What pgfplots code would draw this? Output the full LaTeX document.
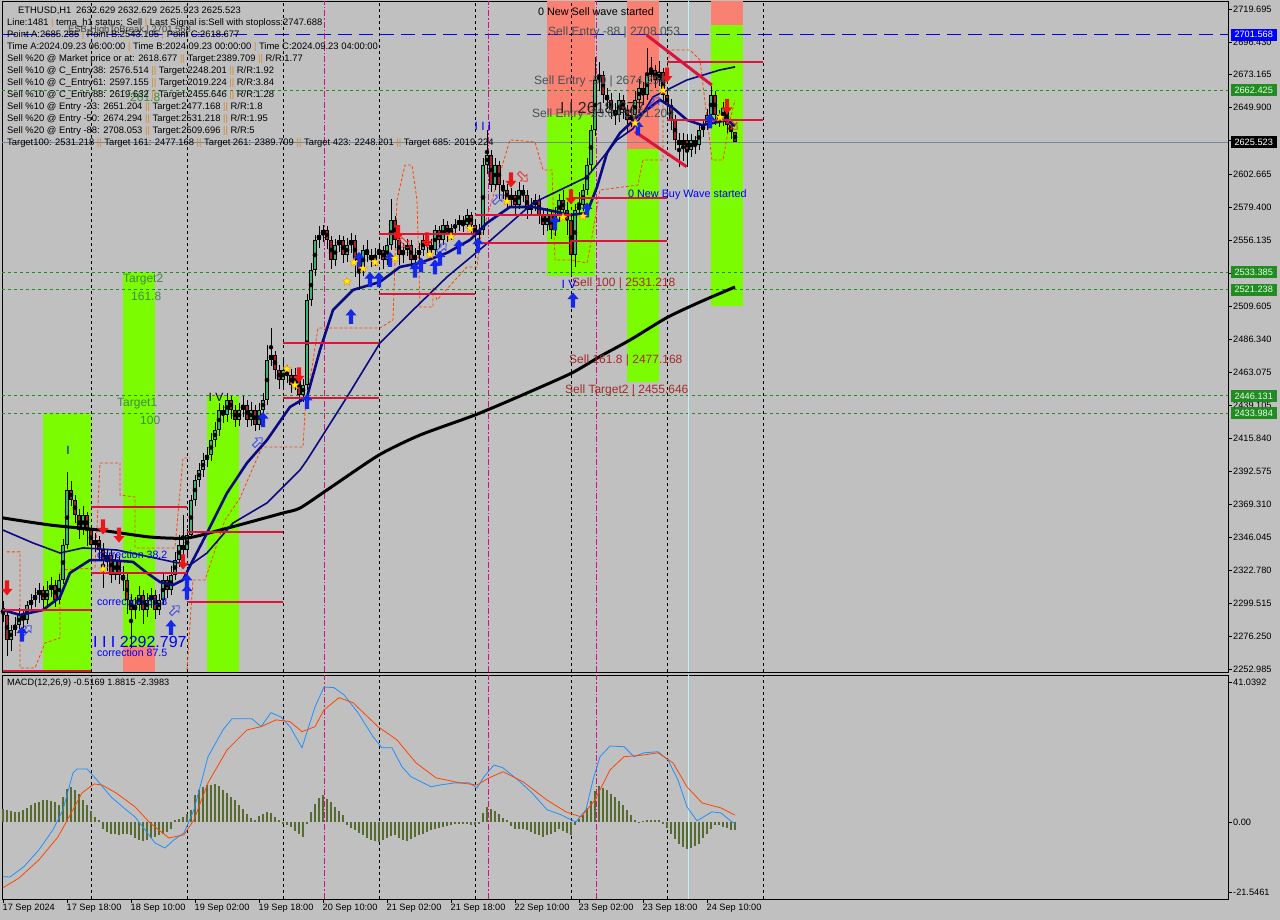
\documentclass[border=0pt]{standalone}
\usepackage{pgfplots}
\pgfplotsset{compat=1.18}
\usepackage{pgfplotstable}
\usepackage{fontspec}
\setmainfont{Liberation Sans}
\definecolor{bg}{RGB}{192,192,192}
\definecolor{bandgreen}{RGB}{124,252,0}
\definecolor{bandsalmon}{RGB}{250,128,114}
\definecolor{lvlgreen}{RGB}{34,139,34}
\definecolor{crim}{RGB}{220,20,60}
\definecolor{navyma}{RGB}{10,10,130}
\definecolor{bull}{RGB}{60,179,113}
\definecolor{bear}{RGB}{165,35,35}
\definecolor{magv}{RGB}{199,21,133}
\definecolor{lcyan}{RGB}{190,240,245}
\definecolor{orng}{RGB}{255,69,0}
\definecolor{dodger}{RGB}{30,144,255}
\definecolor{olivebar}{RGB}{85,107,47}
\definecolor{sepor}{RGB}{215,135,40}
\definecolor{lblgray}{RGB}{70,82,82}
\definecolor{brn}{RGB}{165,42,42}
\definecolor{tgtgreen}{RGB}{60,140,70}
\definecolor{slate}{RGB}{119,136,153}
\definecolor{arrred}{RGB}{240,20,20}
\definecolor{arrblue}{RGB}{20,40,235}
\definecolor{hollblue}{RGB}{70,70,235}
\definecolor{hollred}{RGB}{235,50,50}
\newcommand\fs[1]{\fontsize{#1}{#1}\selectfont}
\newcommand\SepD{\textcolor{sepor}{||}}
\newcommand\SepS{\textcolor{sepor}{|}}

\pgfdeclareplotmark{dnarrow}{%
 \pgfpathmoveto{\pgfqpoint{0pt}{-7.5pt}}%
 \pgfpathlineto{\pgfqpoint{5.5pt}{-1pt}}%
 \pgfpathlineto{\pgfqpoint{2.2pt}{-1pt}}%
 \pgfpathlineto{\pgfqpoint{2.2pt}{7.5pt}}%
 \pgfpathlineto{\pgfqpoint{-2.2pt}{7.5pt}}%
 \pgfpathlineto{\pgfqpoint{-2.2pt}{-1pt}}%
 \pgfpathlineto{\pgfqpoint{-5.5pt}{-1pt}}%
 \pgfpathclose\pgfusepathqfill}
\pgfdeclareplotmark{uparrow}{%
 \pgfpathmoveto{\pgfqpoint{0pt}{7.5pt}}%
 \pgfpathlineto{\pgfqpoint{5.5pt}{1pt}}%
 \pgfpathlineto{\pgfqpoint{2.2pt}{1pt}}%
 \pgfpathlineto{\pgfqpoint{2.2pt}{-7.5pt}}%
 \pgfpathlineto{\pgfqpoint{-2.2pt}{-7.5pt}}%
 \pgfpathlineto{\pgfqpoint{-2.2pt}{1pt}}%
 \pgfpathlineto{\pgfqpoint{-5.5pt}{1pt}}%
 \pgfpathclose\pgfusepathqfill}
\pgfdeclareplotmark{hollur}{%
 \pgftransformrotate{-45}%
 \pgfpathmoveto{\pgfqpoint{0pt}{6pt}}%
 \pgfpathlineto{\pgfqpoint{4.5pt}{1pt}}%
 \pgfpathlineto{\pgfqpoint{1.8pt}{1pt}}%
 \pgfpathlineto{\pgfqpoint{1.8pt}{-6pt}}%
 \pgfpathlineto{\pgfqpoint{-1.8pt}{-6pt}}%
 \pgfpathlineto{\pgfqpoint{-1.8pt}{1pt}}%
 \pgfpathlineto{\pgfqpoint{-4.5pt}{1pt}}%
 \pgfpathclose\pgfusepathqstroke}
\pgfdeclareplotmark{hollrd}{%
 \pgftransformrotate{45}%
 \pgfpathmoveto{\pgfqpoint{0pt}{-6pt}}%
 \pgfpathlineto{\pgfqpoint{4.5pt}{-1pt}}%
 \pgfpathlineto{\pgfqpoint{1.8pt}{-1pt}}%
 \pgfpathlineto{\pgfqpoint{1.8pt}{6pt}}%
 \pgfpathlineto{\pgfqpoint{-1.8pt}{6pt}}%
 \pgfpathlineto{\pgfqpoint{-1.8pt}{-1pt}}%
 \pgfpathlineto{\pgfqpoint{-4.5pt}{-1pt}}%
 \pgfpathclose\pgfusepathqstroke}
\pgfdeclareplotmark{ystar}{%
 \pgfpathmoveto{\pgfqpoint{0pt}{4.5pt}}%
 \pgfpathlineto{\pgfqpoint{-1.06pt}{1.46pt}}%
 \pgfpathlineto{\pgfqpoint{-4.28pt}{1.39pt}}%
 \pgfpathlineto{\pgfqpoint{-1.71pt}{-0.56pt}}%
 \pgfpathlineto{\pgfqpoint{-2.65pt}{-3.64pt}}%
 \pgfpathlineto{\pgfqpoint{0pt}{-1.8pt}}%
 \pgfpathlineto{\pgfqpoint{2.65pt}{-3.64pt}}%
 \pgfpathlineto{\pgfqpoint{1.71pt}{-0.56pt}}%
 \pgfpathlineto{\pgfqpoint{4.28pt}{1.39pt}}%
 \pgfpathlineto{\pgfqpoint{1.06pt}{1.46pt}}%
 \pgfpathclose\pgfusepathqfillstroke}

\pgfplotstableread{
i o h l c
0 2296.0 2301.0 2286.0 2291.2
1 2291.2 2293.0 2262.0 2273.5
2 2273.5 2284.0 2266.0 2280.6
3 2280.6 2290.0 2276.0 2284.1
4 2284.1 2296.0 2281.0 2291.2
5 2291.2 2295.0 2282.0 2287.6
6 2287.6 2301.0 2285.0 2298.2
7 2298.2 2306.0 2294.0 2301.8
8 2301.8 2310.0 2297.0 2305.3
9 2305.3 2314.0 2300.0 2308.8
10 2308.8 2312.0 2296.0 2301.8
11 2301.8 2315.0 2298.0 2308.8
12 2308.8 2318.0 2304.0 2312.4
13 2312.4 2316.0 2297.0 2301.8
14 2301.8 2320.0 2299.0 2315.9
15 2315.9 2345.0 2313.0 2340.6
16 2340.6 2392.0 2338.0 2379.5
17 2379.5 2386.0 2368.0 2372.5
18 2372.5 2376.0 2356.0 2361.8
19 2361.8 2366.0 2345.0 2351.2
20 2351.2 2368.0 2348.0 2361.8
21 2361.8 2364.0 2340.0 2351.2
22 2351.2 2354.0 2330.0 2340.6
23 2340.6 2349.0 2336.0 2344.2
24 2344.2 2347.0 2330.0 2337.1
25 2337.1 2342.0 2310.0 2330.0
26 2330.0 2338.0 2322.0 2333.6
27 2333.6 2337.0 2314.0 2319.4
28 2319.4 2334.0 2316.0 2330.0
29 2330.0 2333.0 2313.0 2319.4
30 2319.4 2326.0 2308.0 2315.9
31 2315.9 2320.0 2292.0 2301.8
32 2301.8 2306.0 2268.0 2294.7
33 2294.7 2304.0 2288.0 2298.2
34 2298.2 2312.0 2294.0 2305.3
35 2305.3 2309.0 2285.0 2294.7
36 2294.7 2307.0 2290.0 2301.8
37 2301.8 2310.0 2296.0 2305.3
38 2305.3 2309.0 2288.0 2294.7
39 2294.7 2306.0 2291.0 2301.8
40 2301.8 2320.0 2298.0 2315.9
41 2315.9 2319.0 2303.0 2308.8
42 2308.8 2326.0 2305.0 2319.4
43 2319.4 2336.0 2316.0 2330.0
44 2330.0 2348.0 2325.0 2340.6
45 2340.6 2362.0 2330.0 2337.1
46 2337.1 2352.0 2333.0 2347.7
47 2347.7 2376.0 2345.0 2372.5
48 2372.5 2390.0 2368.0 2386.6
49 2386.6 2399.0 2382.0 2393.7
50 2393.7 2406.0 2389.0 2400.7
51 2400.7 2410.0 2396.0 2404.3
52 2404.3 2420.0 2400.0 2414.9
53 2414.9 2428.0 2410.0 2422.0
54 2422.0 2441.0 2418.0 2436.1
55 2436.1 2440.0 2427.0 2432.6
56 2432.6 2448.0 2428.0 2443.2
57 2443.2 2446.0 2430.0 2436.1
58 2436.1 2440.0 2424.0 2429.0
59 2429.0 2441.0 2425.0 2436.1
60 2436.1 2446.0 2431.0 2439.7
61 2439.7 2443.0 2424.0 2429.0
62 2429.0 2442.0 2425.0 2436.1
63 2436.1 2440.0 2421.0 2425.5
64 2425.5 2441.0 2422.0 2436.1
65 2436.1 2448.0 2432.0 2443.2
66 2443.2 2482.0 2440.0 2471.5
67 2471.5 2494.0 2467.0 2475.0
68 2475.0 2478.0 2458.0 2464.4
69 2464.4 2468.0 2451.0 2457.3
70 2457.3 2472.0 2452.0 2464.4
71 2464.4 2468.0 2455.0 2460.9
72 2460.9 2465.0 2448.0 2453.8
73 2453.8 2466.0 2450.0 2460.9
74 2460.9 2463.0 2440.0 2446.7
75 2446.7 2458.0 2442.0 2453.8
76 2453.8 2518.0 2450.0 2513.9
77 2513.9 2540.0 2510.0 2535.1
78 2535.1 2560.0 2531.0 2556.4
79 2556.4 2566.0 2551.0 2559.9
80 2559.9 2567.0 2555.0 2563.4
81 2563.4 2566.0 2550.0 2556.4
82 2556.4 2559.0 2536.0 2542.2
83 2542.2 2557.0 2538.0 2552.8
84 2552.8 2560.0 2548.0 2556.4
85 2556.4 2559.0 2540.0 2545.7
86 2545.7 2558.0 2541.0 2552.8
87 2552.8 2561.0 2547.0 2556.4
88 2556.4 2560.0 2530.0 2542.2
89 2542.2 2547.0 2521.0 2535.1
90 2535.1 2553.0 2531.0 2549.3
91 2549.3 2556.0 2541.0 2545.7
92 2545.7 2550.0 2537.0 2542.2
93 2542.2 2551.0 2538.0 2545.7
94 2545.7 2554.0 2543.0 2549.3
95 2549.3 2552.0 2536.0 2542.2
96 2542.2 2558.0 2539.0 2552.8
97 2552.8 2585.0 2549.0 2570.5
98 2570.5 2573.0 2551.0 2556.4
99 2556.4 2560.0 2539.0 2545.7
100 2545.7 2554.0 2540.0 2549.3
101 2549.3 2557.0 2545.0 2552.8
102 2552.8 2556.0 2536.0 2542.2
103 2542.2 2551.0 2538.0 2545.7
104 2545.7 2554.0 2541.0 2549.3
105 2549.3 2561.0 2545.0 2556.4
106 2556.4 2560.0 2547.0 2552.8
107 2552.8 2557.0 2544.0 2549.3
108 2549.3 2567.0 2546.0 2563.4
109 2563.4 2566.0 2551.0 2556.4
110 2556.4 2571.0 2553.0 2567.0
111 2567.0 2570.0 2555.0 2559.9
112 2559.9 2568.0 2556.0 2564.8
113 2564.8 2571.0 2561.0 2567.0
114 2567.0 2574.0 2563.0 2570.5
115 2570.5 2573.0 2562.0 2567.0
116 2567.0 2578.0 2564.0 2574.0
117 2574.0 2576.0 2561.0 2567.0
118 2567.0 2570.0 2554.0 2559.9
119 2559.9 2568.0 2556.0 2563.4
120 2563.4 2614.0 2560.0 2609.4
121 2609.4 2634.0 2603.0 2616.5
122 2616.5 2620.0 2590.0 2595.2
123 2595.2 2614.0 2592.0 2609.4
124 2609.4 2612.0 2585.0 2595.2
125 2595.2 2599.0 2585.0 2591.7
126 2591.7 2596.0 2579.0 2584.6
127 2584.6 2593.0 2580.0 2588.2
128 2588.2 2591.0 2575.0 2581.1
129 2581.1 2597.0 2578.0 2591.7
130 2591.7 2595.0 2583.0 2588.2
131 2588.2 2592.0 2571.0 2577.6
132 2577.6 2586.0 2573.0 2581.1
133 2581.1 2589.0 2577.0 2584.6
134 2584.6 2588.0 2568.0 2574.0
135 2574.0 2578.0 2560.0 2567.0
136 2567.0 2579.0 2563.0 2574.0
137 2574.0 2577.0 2557.0 2563.4
138 2563.4 2580.0 2559.0 2574.0
139 2574.0 2589.0 2570.0 2584.6
140 2584.6 2592.0 2572.0 2577.6
141 2577.6 2583.0 2560.0 2570.5
142 2570.5 2574.0 2530.0 2545.7
143 2545.7 2582.0 2537.0 2577.6
144 2577.6 2590.0 2573.0 2581.1
145 2581.1 2596.0 2577.0 2591.7
146 2591.7 2614.0 2588.0 2609.4
147 2609.4 2638.0 2605.0 2634.1
148 2634.1 2686.0 2630.0 2669.5
149 2669.5 2682.0 2662.0 2673.0
150 2673.0 2676.0 2653.0 2658.9
151 2658.9 2664.0 2649.0 2655.4
152 2655.4 2660.0 2642.0 2648.3
153 2648.3 2653.0 2638.0 2644.7
154 2644.7 2660.0 2640.0 2655.4
155 2655.4 2659.0 2642.0 2648.3
156 2648.3 2652.0 2633.0 2641.2
157 2641.2 2650.0 2636.0 2644.7
158 2644.7 2662.0 2640.0 2655.4
159 2655.4 2670.0 2650.0 2663.8
160 2663.8 2668.0 2652.0 2658.9
161 2658.9 2692.0 2655.0 2673.0
162 2673.0 2686.0 2668.0 2676.6
163 2676.6 2680.0 2664.0 2669.5
164 2669.5 2683.0 2665.0 2675.1
165 2675.1 2678.0 2653.0 2658.9
166 2658.9 2663.0 2645.0 2651.8
167 2651.8 2656.0 2634.0 2641.2
168 2641.2 2645.0 2620.0 2627.1
169 2627.1 2632.0 2608.0 2623.5
170 2623.5 2632.0 2612.0 2627.1
171 2627.1 2631.0 2608.0 2620.0
172 2620.0 2631.0 2615.0 2627.1
173 2627.1 2630.0 2617.0 2623.5
174 2623.5 2638.0 2620.0 2634.1
175 2634.1 2642.0 2629.0 2637.6
176 2637.6 2649.0 2634.0 2644.7
177 2644.7 2665.0 2641.0 2658.9
178 2658.9 2662.0 2638.0 2644.7
179 2644.7 2648.0 2636.0 2641.2
180 2641.2 2654.0 2637.0 2649.7
181 2649.7 2652.0 2632.0 2637.6
182 2637.6 2641.0 2628.0 2632.7
183 2632.629 2632.629 2625.523 2625.523
}\candles

\pgfplotstableread{
i v
0 3.5
1 3.3
2 3.0
3 2.8
4 2.8
5 3.2
6 3.8
7 4.6
8 5.2
9 5.6
10 6.0
11 6.0
12 5.8
13 5.6
14 4.6
15 7.0
16 9.3
17 9.8
18 9.0
19 7.9
20 6.0
21 4.6
22 3.0
23 1.4
24 0.5
25 -2.0
26 -2.8
27 -3.3
28 -3.5
29 -3.7
30 -3.5
31 -3.3
32 -3.8
33 -4.6
34 -5.1
35 -5.4
36 -5.2
37 -4.6
38 -4.2
39 -3.8
40 -3.3
41 -2.8
42 -2.1
43 0.5
44 0.9
45 1.4
46 2.3
47 3.3
48 7.5
49 8.8
50 9.8
51 10.2
52 10.4
53 10.5
54 10.0
55 9.0
56 8.0
57 7.0
58 6.0
59 4.8
60 3.5
61 2.2
62 1.0
63 0.5
64 1.6
65 2.3
66 2.8
67 2.5
68 1.5
69 0.5
70 -0.6
71 -1.0
72 -1.4
73 -2.5
74 -3.5
75 -4.2
76 -0.5
77 2.8
78 5.0
79 6.8
80 7.5
81 6.5
82 5.6
83 4.2
84 3.0
85 1.8
86 -0.8
87 -1.6
88 -2.3
89 -3.0
90 -3.8
91 -4.4
92 -5.0
93 -5.4
94 -5.6
95 -5.0
96 -4.4
97 -4.0
98 -3.8
99 -4.4
100 -5.0
101 -5.3
102 -4.8
103 -4.2
104 -3.8
105 -3.3
106 -2.8
107 -2.4
108 -2.0
109 -1.6
110 -1.3
111 -1.1
112 -0.9
113 -0.7
114 -0.6
115 -0.5
116 -0.5
117 -0.8
118 -0.9
119 -0.7
120 2.5
121 4.2
122 3.7
123 3.0
124 2.3
125 1.2
126 0.5
127 -1.2
128 -1.9
129 -2.0
130 -2.1
131 -2.4
132 -2.8
133 -3.3
134 -3.8
135 -4.2
136 -3.8
137 -3.3
138 -2.7
139 -2.1
140 -2.5
141 -3.0
142 -3.7
143 -0.9
144 0.9
145 2.0
146 4.0
147 5.8
148 8.5
149 10.0
150 9.5
151 8.8
152 7.8
153 7.0
154 5.8
155 4.7
156 3.2
157 1.9
158 0.6
159 -0.3
160 0.3
161 0.5
162 0.5
163 0.6
164 0.4
165 -0.5
166 -1.8
167 -3.3
168 -4.8
169 -6.1
170 -6.9
171 -7.5
172 -7.3
173 -6.8
174 -6.1
175 -4.5
176 -3.3
177 -2.0
178 -0.9
179 -1.0
180 -1.4
181 -1.8
182 -2.2
183 -2.4
}\hist

\begin{document}
\begin{tikzpicture}
\fill[bg] (0,0) rectangle (1280pt,920pt);
\path[use as bounding box] (0,0) rectangle (1280pt,920pt);

\begin{axis}[
  at={(2pt,248pt)}, anchor=south west,
  scale only axis, width=1226pt, height=671pt,
  xmin=-0.25, xmax=306.25, ymin=2250.864, ymax=2725.35,
  axis line style={black, line width=0.8pt},
  xtick=\empty,
  ytick pos=right, yticklabel pos=right,
  ytick={2719.695,2696.430,2673.165,2649.900,2626.635,2602.665,2579.400,2556.135,2532.870,2509.605,2486.340,2463.075,2439.105,2415.840,2392.575,2369.310,2346.045,2322.780,2299.515,2276.250,2252.985},
  yticklabels={2719.695,2696.430,2673.165,2649.900,2626.635,2602.665,2579.400,2556.135,2532.870,2509.605,2486.340,2463.075,2439.105,2415.840,2392.575,2369.310,2346.045,2322.780,2299.515,2276.250,2252.985},
  tick align=outside, major tick length=4pt,
  tick style={black, line width=0.6pt},
  yticklabel style={font=\fs{9.2}, inner sep=1pt},
  clip mode=individual,
]
% bands
\addplot[draw=none, fill=bandgreen] coordinates {(10,2250.864) (22,2250.864) (22,2433.984) (10,2433.984)};
\addplot[draw=none, fill=bandgreen] coordinates {(30,2268.5) (38,2268.5) (38,2533.385) (30,2533.385)};
\addplot[draw=none, fill=bandsalmon] coordinates {(30,2250.864) (38,2250.864) (38,2268.5) (30,2268.5)};
\addplot[draw=none, fill=bandgreen] coordinates {(51,2250.864) (59,2250.864) (59,2446.131) (51,2446.131)};
\addplot[draw=none, fill=bandgreen] coordinates {(136,2531.218) (148,2531.218) (148,2644.7) (136,2644.7)};
\addplot[draw=none, fill=bandsalmon] coordinates {(136,2644.7) (148,2644.7) (148,2725.35) (136,2725.35)};
\addplot[draw=none, fill=bandgreen] coordinates {(156,2455.646) (164,2455.646) (164,2620.7) (156,2620.7)};
\addplot[draw=none, fill=bandsalmon] coordinates {(156,2620.7) (164,2620.7) (164,2725.35) (156,2725.35)};
\addplot[draw=none, fill=bandgreen] coordinates {(177,2509.696) (185,2509.696) (185,2708.053) (177,2708.053)};
\addplot[draw=none, fill=bandsalmon] coordinates {(177,2708.053) (185,2708.053) (185,2725.35) (177,2725.35)};
% level lines
\pgfplotsinvokeforeach{2662.425,2533.385,2521.238,2446.131,2433.984}{
  \addplot[lvlgreen, dash pattern=on 3pt off 3pt, line width=0.8pt] coordinates {(-0.25,#1) (306.25,#1)};
}
\addplot[blue, dash pattern=on 14pt off 7pt, line width=0.9pt] coordinates {(-0.25,2701.568) (306.25,2701.568)};
\addplot[slate, line width=0.8pt] coordinates {(-0.25,2625.523) (306.25,2625.523)};
% vertical lines
\pgfplotsinvokeforeach{22,46,70,94,118,142,166,190}{
  \addplot[black, dash pattern=on 3pt off 3pt, line width=0.8pt] coordinates {(#1,2250.864) (#1,2725.35)};
}
\pgfplotsinvokeforeach{80.25,121.25,148.25}{
  \addplot[magv, dash pattern=on 6pt off 2pt on 1.5pt off 2pt, line width=0.8pt] coordinates {(#1,2250.864) (#1,2725.35)};
}
\addplot[lcyan, line width=0.8pt] coordinates {(171.25,2250.864) (171.25,2725.35)};
% orange dashed step lines
\addplot[orng, dash pattern=on 3pt off 2pt, line width=0.8pt] coordinates {(1,2335.8) (4.25,2335.8) (4.25,2253.7) (8,2253.7) (10.5,2271.4) (14.25,2274.9) (14.25,2323.0) (23,2324.4) (24.25,2398.7) (29.25,2398.7) (29.25,2376.0) (33,2374.6) (33,2338.6) (43,2338.6) (45,2402.2) (46.75,2402.2)};
\addplot[orng, dash pattern=on 3pt off 2pt, line width=0.8pt] coordinates {(46,2252.3) (47.5,2315.9) (50.5,2315.9) (55.5,2358.3) (59.25,2373.9) (64.75,2410.0) (75,2410.0) (75.5,2434.0) (78.75,2494.1) (94.25,2494.1) (97.5,2499.8) (98.5,2584.6) (100.5,2609.4) (102.25,2609.4) (103.5,2584.6) (104.25,2508.9) (107.5,2508.9) (107.5,2523.1) (108.5,2513.9) (116,2537.3) (118.5,2537.3) (119.25,2556.4) (126.75,2627.1) (133,2625.7) (135,2605.9) (137.25,2605.9) (138,2542.2) (141.75,2542.2) (146,2540.1) (147.25,2558.5) (149.25,2591.7) (158.75,2595.2) (160,2612.9) (165,2612.9) (165,2655.4) (166.75,2690.7) (171.75,2690.7) (174.25,2683.6) (177.25,2612.9) (180,2612.9) (181.75,2641.2) (183,2655.4)};
% candles: wicks
\addplot[only marks, mark=none, error bars/.cd, y dir=both, y explicit, error mark=none,
  error bar style={black, line width=0.8pt}]
  table[x=i, y expr={(\thisrow{h}+\thisrow{l})/2}, y error expr={(\thisrow{h}-\thisrow{l})/2}] {\candles};
% bull bodies
\addplot[only marks, mark=none, restrict expr to domain={\thisrow{c}-\thisrow{o}}{0:10000},
  error bars/.cd, y dir=both, y explicit, error mark=none, error bar style={black, line width=3.6pt}]
  table[x=i, y expr={(\thisrow{o}+\thisrow{c})/2}, y error expr={max(abs(\thisrow{c}-\thisrow{o})/2,0.45)}] {\candles};
\addplot[only marks, mark=none, restrict expr to domain={\thisrow{c}-\thisrow{o}}{0:10000},
  error bars/.cd, y dir=both, y explicit, error mark=none, error bar style={bull, line width=2.1pt}]
  table[x=i, y expr={(\thisrow{o}+\thisrow{c})/2}, y error expr={max(abs(\thisrow{c}-\thisrow{o})/2-0.6,0)}] {\candles};
% bear bodies
\addplot[only marks, mark=none, restrict expr to domain={\thisrow{o}-\thisrow{c}}{0.0001:10000},
  error bars/.cd, y dir=both, y explicit, error mark=none, error bar style={black, line width=3.6pt}]
  table[x=i, y expr={(\thisrow{o}+\thisrow{c})/2}, y error expr={max(abs(\thisrow{c}-\thisrow{o})/2,0.45)}] {\candles};
\addplot[only marks, mark=none, restrict expr to domain={\thisrow{o}-\thisrow{c}}{0.0001:10000},
  error bars/.cd, y dir=both, y explicit, error mark=none, error bar style={bear, line width=2.1pt}]
  table[x=i, y expr={(\thisrow{o}+\thisrow{c})/2}, y error expr={max(abs(\thisrow{c}-\thisrow{o})/2-0.6,0)}] {\candles};
% moving averages
\addplot[black, line width=3pt, smooth, tension=0.4] coordinates {(0,2359.8) (11.75,2354.8) (24.25,2351.2) (36.75,2346.3) (46,2345.6) (54.25,2351.2) (61.75,2356.9) (70,2363.3) (74.25,2366.8) (81.75,2381.0) (94,2404.3) (104.25,2418.4) (118,2432.6) (129.25,2446.0) (142,2462.0) (149.25,2474.0) (156.75,2485.6) (166,2501.5) (174.25,2512.5) (183,2523.1)};
\addplot[navyma, line width=1.6pt] coordinates {(0,2351.2) (7.5,2342.1) (14.25,2335.0) (20,2338.6) (28.5,2337.1) (36.75,2332.2) (42.5,2328.7) (46.75,2326.5) (51,2335.0) (57.5,2356.2) (66,2370.4) (74.25,2393.7) (76,2400.7) (86,2445.3) (94.25,2483.5) (102.5,2506.8) (111,2530.2) (120,2551.4) (132.5,2582.5) (146,2600.9) (153.5,2627.1) (157.5,2635.0) (162.5,2657.5) (171,2669.5) (179.25,2676.6) (183,2678.7)};
\addplot[navyma, line width=2.6pt] coordinates {(0,2294.7) (4.25,2291.2) (10,2294.7) (14.25,2303.9) (16.75,2320.9) (21.75,2330.0) (26.75,2330.0) (32.5,2328.7) (36,2320.9) (39.25,2314.5) (42.5,2312.4) (45,2315.9) (47.5,2330.0) (51,2349.1) (56,2377.4) (61,2398.7) (66,2414.9) (71.75,2438.3) (76,2445.3) (79.25,2478.6) (82.5,2506.8) (87.5,2521.0) (94.25,2526.7) (99.25,2537.3) (104.25,2540.1) (111,2547.2) (116.75,2556.4) (121,2568.4) (126.75,2579.7) (132.5,2579.7) (138.5,2576.2) (141.75,2574.0) (146,2575.5) (148.5,2593.8) (151,2617.9) (154.25,2632.0) (158.5,2643.3) (164.25,2655.4) (167.5,2649.7) (171,2641.2) (174.75,2637.6) (177.5,2639.1) (181,2641.2) (183,2637.0)};
% red segments
\addplot[crim, line width=2.2pt] coordinates {(0,2294.7) (22,2294.7)};
\addplot[crim, line width=2.2pt] coordinates {(0,2251.8) (22,2251.8)};
\addplot[crim, line width=2.2pt] coordinates {(22,2367.5) (46,2367.5)};
\addplot[crim, line width=2.2pt] coordinates {(22,2320.9) (46,2320.9)};
\addplot[crim, line width=2.2pt] coordinates {(46,2349.9) (70,2349.9)};
\addplot[crim, line width=2.2pt] coordinates {(46,2300.4) (70,2300.4)};
\addplot[crim, line width=2.2pt] coordinates {(70,2483.5) (94,2483.5)};
\addplot[crim, line width=2.2pt] coordinates {(70,2444.6) (94,2444.6)};
\addplot[crim, line width=2.2pt] coordinates {(94,2560.6) (118,2560.6)};
\addplot[crim, line width=2.2pt] coordinates {(94,2518.2) (118,2518.2)};
\addplot[crim, line width=2.2pt] coordinates {(118,2574.0) (142,2574.0)};
\addplot[crim, line width=2.2pt] coordinates {(118,2554.2) (142,2554.2)};
\addplot[crim, line width=2.2pt] coordinates {(142,2586.1) (166,2586.1)};
\addplot[crim, line width=2.2pt] coordinates {(142,2555.7) (166,2555.7)};
\addplot[crim, line width=2.2pt] coordinates {(166,2682.2) (190,2682.2)};
\addplot[crim, line width=2.2pt] coordinates {(166,2641.2) (190,2641.2)};
\addplot[crim, line width=3pt] coordinates {(160.9,2701.3) (177.2,2665.9)};
\addplot[crim, line width=3pt] coordinates {(158,2632.9) (170.9,2608.2)};
% arrows and stars
\addplot[only marks, mark=hollur, hollblue, mark options={line width=0.8pt}] coordinates {(6,2280.6) (43,2294.7) (63.75,2413.5) (109.75,2550.7) (123.75,2585.3) (163,2653.9)};
\addplot[only marks, mark=hollrd, hollred, mark options={line width=0.8pt}] coordinates {(100.5,2554.2) (130,2600.9) (182.5,2637.6)};
\addplot[only marks, mark=dnarrow, arrred] coordinates {(1,2310.3) (25,2353.4) (29,2347.7) (45,2328.7) (74,2460.9) (98.75,2561.6) (106,2556.4) (127,2598.8) (142,2586.8) (166,2673.0) (181,2650.8)};
\addplot[only marks, mark=uparrow, arrblue] coordinates {(4.75,2277.7) (42,2282.4) (46,2307.3) (46,2315.0) (65,2429.4) (76,2442.2) (87,2502.3) (89,2542.6) (91.75,2528.4) (94,2528.4) (96.75,2542.6) (103,2535.1) (104.5,2538.7) (108,2537.3) (109.25,2543.6) (114,2551.4) (118.75,2552.8) (138,2568.4) (142.5,2513.9) (146,2577.6) (158.75,2635.6) (176.75,2640.5)};
\addplot[only marks, mark=ystar, mark options={fill=yellow, draw=orange, line width=0.3pt}] coordinates {(25,2323.7) (71,2465.1) (73,2453.8) (86,2527.0) (87.75,2540.5) (90,2536.2) (93,2540.5) (98,2543.3) (106.75,2546.1) (112,2558.8) (116.75,2564.5) (126,2583.6) (140,2572.3) (145,2573.0) (158,2639.1) (165,2662.1) (179.25,2643.0)};
% chart texts
\node[anchor=center, font=\fs{10.8}, inner sep=0pt] at (axis cs:148.25,2717.6) {0 New Sell wave started};
\node[anchor=west, font=\fs{12}, text=lblgray, inner sep=0pt] at (axis cs:136.25,2703.4) {Sell Entry -88 | 2708.053};
\node[anchor=west, font=\fs{12}, text=lblgray, inner sep=0pt] at (axis cs:132.75,2668.8) {Sell Entry -50 | 2674.294};
\node[anchor=west, font=\fs{12}, text=lblgray, inner sep=0pt] at (axis cs:132.25,2645.4) {Sell Entry -23.6 | 2651.204};
\node[anchor=west, font=\fs{16}, text=black!85, inner sep=0pt] at (axis cs:139.25,2649.7) {I I 2618.677};
\node[anchor=west, font=\fs{10.8}, text=blue, inner sep=0pt] at (axis cs:156.25,2588.2) {0 New Buy Wave started};
\node[anchor=west, font=\fs{12}, text=brn, inner sep=0pt] at (axis cs:142.25,2525.9) {Sell 100 | 2531.218};
\node[anchor=west, font=\fs{12}, text=brn, inner sep=0pt] at (axis cs:141.5,2471.5) {Sell 161.8 | 2477.168};
\node[anchor=west, font=\fs{12}, text=brn, inner sep=0pt] at (axis cs:140.5,2450.3) {Sell Target2 | 2455.646};
\node[anchor=west, font=\fs{12}, text=tgtgreen, inner sep=0pt] at (axis cs:30,2528.1) {Target2};
\node[anchor=west, font=\fs{12}, text=tgtgreen, inner sep=0pt] at (axis cs:32,2516.7) {161.8};
\node[anchor=west, font=\fs{12}, text=tgtgreen, inner sep=0pt] at (axis cs:28.5,2440.4) {Target1};
\node[anchor=west, font=\fs{12}, text=tgtgreen, inner sep=0pt] at (axis cs:34.25,2429.0) {100};
\node[anchor=center, font=\fs{12}, text=blue, inner sep=0pt] at (axis cs:16.25,2407.8) {I};
\node[anchor=center, font=\fs{12}, text=blue, inner sep=0pt] at (axis cs:120,2636.6) {I I I};
\node[anchor=center, font=\fs{12}, text=black, inner sep=0pt] at (axis cs:53.25,2445.3) {I V};
\node[anchor=center, font=\fs{12}, text=blue, inner sep=0pt] at (axis cs:141.5,2524.9) {I V};
\node[anchor=west, font=\fs{10.6}, text=blue, inner sep=0pt] at (axis cs:23.5,2333.6) {correction 38.2};
\node[anchor=west, font=\fs{10.6}, text=blue, inner sep=0pt] at (axis cs:23.5,2300.4) {correction 61.8};
\node[anchor=west, font=\fs{10.6}, text=blue, inner sep=0pt] at (axis cs:23.5,2264.3) {correction 87.5};
\node[anchor=west, font=\fs{16}, text=blue, inner sep=0pt] at (axis cs:22.5,2272.1) {I I I 2292.797};
% right labels
\node[anchor=west, fill=blue, text=white, font=\fs{9.2}, inner sep=1pt, minimum width=46pt, minimum height=12pt, xshift=2.5pt] at (axis cs:306.25,2701.568) {2701.568};
\node[anchor=west, fill=black, text=white, font=\fs{9.2}, inner sep=1pt, minimum width=46pt, minimum height=12pt, xshift=2.5pt] at (axis cs:306.25,2625.523) {2625.523};
\pgfplotsinvokeforeach{2662.425,2533.385,2521.238,2446.131,2433.984}{
  \node[anchor=west, fill=lvlgreen, text=white!90!green, font=\fs{9.2}, inner sep=1pt, minimum width=46pt, minimum height=12pt, xshift=2.5pt] at (axis cs:306.25,#1) {#1};
}
\end{axis}

\begin{axis}[
  at={(2pt,21pt)}, anchor=south west,
  scale only axis, width=1226pt, height=224pt,
  xmin=-0.25, xmax=306.25, ymin=-21.5461, ymax=41.0392,
  axis line style={black, line width=0.8pt},
  xtick={0,16,...,176},
  xticklabels={17 Sep 2024,17 Sep 18:00,18 Sep 10:00,19 Sep 02:00,19 Sep 18:00,20 Sep 10:00,21 Sep 02:00,21 Sep 18:00,22 Sep 10:00,23 Sep 02:00,23 Sep 18:00,24 Sep 10:00},
  xtick pos=left,
  xticklabel style={anchor=north west, font=\fs{9.2}, inner sep=0pt, xshift=-0.5pt, yshift=-1pt},
  ytick={39.1,0,-19.6}, yticklabels={41.0392,0.00,-21.5461},
  ytick pos=right, yticklabel pos=right,
  yticklabel style={font=\fs{9.2}, inner sep=1pt},
  tick align=outside, major tick length=4pt,
  tick style={black, line width=0.6pt},
  clip mode=individual,
]
\pgfplotsinvokeforeach{22,46,70,94,118,142,166,190}{
  \addplot[black, dash pattern=on 3pt off 3pt, line width=0.8pt] coordinates {(#1,-21.5461) (#1,41.0392)};
}
\pgfplotsinvokeforeach{80.25,121.25,148.25}{
  \addplot[magv, dash pattern=on 6pt off 2pt on 1.5pt off 2pt, line width=0.8pt] coordinates {(#1,-21.5461) (#1,41.0392)};
}
\addplot[lcyan, line width=0.8pt] coordinates {(171.25,-21.5461) (171.25,41.0392)};
\addplot[ycomb, olivebar, line width=2.8pt] table[x=i, y=v] {\hist};
\addplot[dodger, line width=0.8pt] coordinates {(0,-15.3) (1.75,-15.4) (5.25,-12.5) (9,-7.8) (12.5,-2.2) (15,3.4) (17.5,13.7) (18.5,14.8) (21,14.8) (23.5,11.7) (27,7.0) (30.75,3.4) (33,1.4) (35.5,-2.2) (38,-5.9) (40.5,-7.3) (42.75,-5.0) (45.25,-3.1) (47.75,3.4) (51.25,18.2) (55,25.7) (57.25,28.8) (62.25,28.8) (64.5,26.6) (67,30.5) (69.5,29.3) (71.75,26.6) (74.75,20.7) (78,32.1) (80.25,37.7) (82.75,37.5) (85.25,35.5) (88.75,30.5) (92.5,23.8) (94.75,20.7) (97.25,20.7) (99.75,15.4) (102,12.6) (107,9.8) (109.25,10.3) (113,10.9) (116.5,10.9) (118.5,9.5) (120.25,12.6) (122.75,15.9) (125,15.1) (128.75,11.7) (132.25,8.1) (136,3.4) (139.5,2.0) (142,0.6) (143.25,0) (145.75,3.4) (147.5,11.7) (149.25,18.2) (151.75,21.2) (155.25,21.0) (157.75,18.2) (160.25,19.3) (163.75,19.6) (166.25,17.3) (168.75,11.7) (171,4.2) (173.5,0.3) (177.25,2.8) (179.5,2.5) (182,0.2) (183,-0.5169)};
\addplot[orng, line width=0.8pt] coordinates {(0,-18.4) (4,-15.7) (9,-10.6) (13.75,-4.2) (17.5,3.4) (19.75,8.1) (22.75,10.6) (24.75,10.3) (28.25,8.1) (33,4.2) (36.75,-0.3) (41.5,-4.5) (45.25,-3.6) (47.75,0.6) (51.25,10.9) (56,20.1) (61,25.7) (64.5,26.6) (68.25,28.5) (71.75,28.0) (74.75,25.2) (78,26.6) (80.25,31.3) (84,34.7) (87.5,33.3) (93.75,26.6) (98.5,22.9) (103.25,16.5) (108.25,12.3) (114.25,10.9) (118.5,10.3) (121.5,12.3) (125,14.0) (130,11.2) (136,6.1) (140.75,2.8) (144.5,1.4) (148,6.1) (151.75,14.5) (155.25,18.2) (160.25,18.7) (163.75,19.3) (167.5,16.5) (171,9.8) (174.75,5.3) (179.5,3.9) (183,1.8815)};
\end{axis}

% overlay texts (fixed positions)
\node[anchor=west, inner sep=0pt, font=\fs{9.2}] at (7pt,237pt) {MACD(12,26,9) -0.5169 1.8815 -2.3983};
\node[anchor=west, inner sep=0pt, font=\fs{12}, text=tgtgreen] at (130pt,823pt) {261.8};
\node[anchor=west, inner sep=0pt, font=\fs{9.4}, text=black!75] at (68pt,890pt) {ESB-HighToBreak | 2701.568};
\begin{scope}[every node/.style={anchor=west, inner sep=0pt, font=\fs{9.4}}]
\node at (18pt,909pt) {ETHUSD,H1\enspace 2632.629 2632.629 2625.923 2625.523};
\node at (7pt,897pt) {Line:1481 \SepS{} tema\_h1 status: Sell \SepS{} Last Signal is:Sell with stoploss:2747.688};
\node at (7pt,885pt) {Point A:2685.285 \SepS{} Point B:2543.105 \SepS{} Point C:2618.677};
\node at (7pt,873pt) {Time A:2024.09.23 06:00:00 \SepS{} Time B:2024.09.23 00:00:00 \SepS{} Time C:2024.09.23 04:00:00};
\node at (7pt,861pt) {Sell \%20 @ Market price or at: 2618.677 \SepD{} Target:2389.709 \SepD{} R/R:1.77};
\node at (7pt,849pt) {Sell \%10 @ C\_Entry38: 2576.514 \SepD{} Target:2248.201 \SepD{} R/R:1.92};
\node at (7pt,837pt) {Sell \%10 @ C\_Entry61: 2597.155 \SepD{} Target:2019.224 \SepD{} R/R:3.84};
\node at (7pt,825pt) {Sell \%10 @ C\_Entry88: 2619.632 \SepD{} Target:2455.646 \SepD{} R/R:1.28};
\node at (7pt,813pt) {Sell \%10 @ Entry -23: 2651.204 \SepD{} Target:2477.168 \SepD{} R/R:1.8};
\node at (7pt,801pt) {Sell \%20 @ Entry -50: 2674.294 \SepD{} Target:2531.218 \SepD{} R/R:1.95};
\node at (7pt,789pt) {Sell \%20 @ Entry -88: 2708.053 \SepD{} Target:2509.696 \SepD{} R/R:5};
\node at (7pt,777pt) {Target100: 2531.218 \SepD{} Target 161: 2477.168 \SepD{} Target 261: 2389.709 \SepD{} Target 423: 2248.201 \SepD{} Target 685: 2019.224};
\end{scope}
\end{tikzpicture}
\end{document}
